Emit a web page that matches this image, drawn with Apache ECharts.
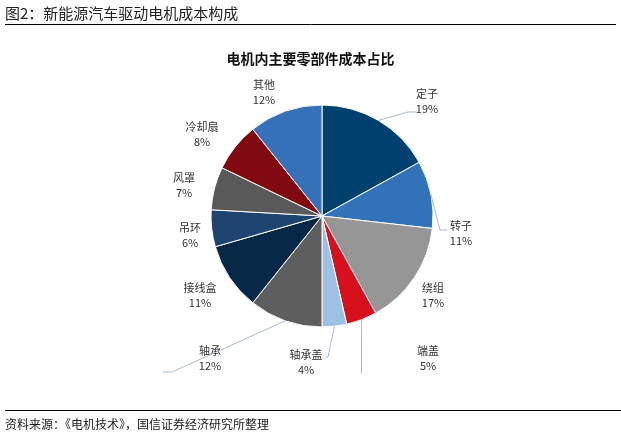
<!DOCTYPE html>
<html><head><meta charset="utf-8">
<script src="https://cdn.jsdelivr.net/npm/echarts@6/dist/echarts.min.js"></script>
<style>html,body{margin:0;padding:0;background:#fff}#c{width:621px;height:439px}</style>
</head><body><div id="c"></div>
<script>
const categories = ['定子','转子','绕组','端盖','轴承盖','轴承','接线盒','吊环','风罩','冷却扇','其他'];
const values = [19, 11, 17, 5, 4, 12, 11, 6, 7, 8, 12];
const colors = ['#00406f','#3272b8','#969696','#d8101d','#9cc1e5','#5e5e5e','#072747','#1e4570','#595959','#810a12','#3571b8'];
// label layout (positions only), one entry per category
const labelPos = [[427,101],[461,233],[433,295],[428,358],[306,362],[210,358],[200,295],[190,235],[184,185],[202,134],[264,92]];
const linePts = [
  [[408,112],[416,112]],   // 定子
  [[440,230],[447,230]],   // 转子
  null,                    // 绕组
  [[361.5,373]],           // 端盖
  [[328,357],[326,357]],   // 轴承盖
  [[172,372],[163,372]],   // 轴承
  null,null,null,null,null
];
const CX=322, CY=216, R=111;
const total=values.reduce((a,b)=>a+b,0);
function startPoint(i){
  let before=0; for(let k=0;k<i;k++) before+=values[k];
  const ang=(before+values[i]/2)/total*2*Math.PI;
  return [CX+R*Math.sin(ang),CY-R*Math.cos(ang)];
}
const guideLines=[];
linePts.forEach((pts,i)=>{
  if(!pts) return;
  guideLines.push({type:'polyline',z:100,silent:true,shape:{points:[startPoint(i)].concat(pts)},
    style:{stroke:'#a8bace',lineWidth:1,fill:null}});
});
const chart = echarts.init(document.getElementById('c'));
chart.setOption({
  animation:false,
  backgroundColor:'#fff',
  title:{text:'电机内主要零部件成本占比',left:'center',top:47,
    textStyle:{fontSize:14,fontWeight:'bold',color:'#111',fontFamily:'Noto Sans CJK SC'}},
  graphic:[
    {type:'text',left:5,top:6,style:{text:'图2：新能源汽车驱动电机成本构成',fontSize:15,fill:'#222',fontFamily:'Noto Sans CJK SC'}},
    {type:'line',shape:{x1:5,y1:24.5,x2:616,y2:24.5},style:{stroke:'#000',lineWidth:1}},
    {type:'line',shape:{x1:5,y1:410.5,x2:621,y2:410.5},style:{stroke:'#000',lineWidth:1}},
    {type:'text',left:5,top:418,style:{text:'资料来源：《电机技术》，国信证券经济研究所整理',fontSize:12,fill:'#222',fontFamily:'Noto Sans CJK SC'}}
  ].concat(guideLines),
  series:[{
    type:'pie',
    center:[CX,CY],
    radius:R,
    startAngle:90,
    clockwise:true,
    avoidLabelOverlap:false,
    itemStyle:{borderColor:'#fff',borderWidth:1},
    label:{show:true,position:'outside',formatter:'{b}\n{c}%',fontSize:11,lineHeight:15,color:'#333',fontFamily:'Noto Sans CJK SC'},
    labelLine:{show:false},
    labelLayout:function(p){
      const pos=labelPos[p.dataIndex];
      return {x:pos[0],y:pos[1],align:'center',verticalAlign:'middle'};
    },
    data:categories.map((n,i)=>({name:n,value:values[i],itemStyle:{color:colors[i]}}))
  }]
});
</script></body></html>
